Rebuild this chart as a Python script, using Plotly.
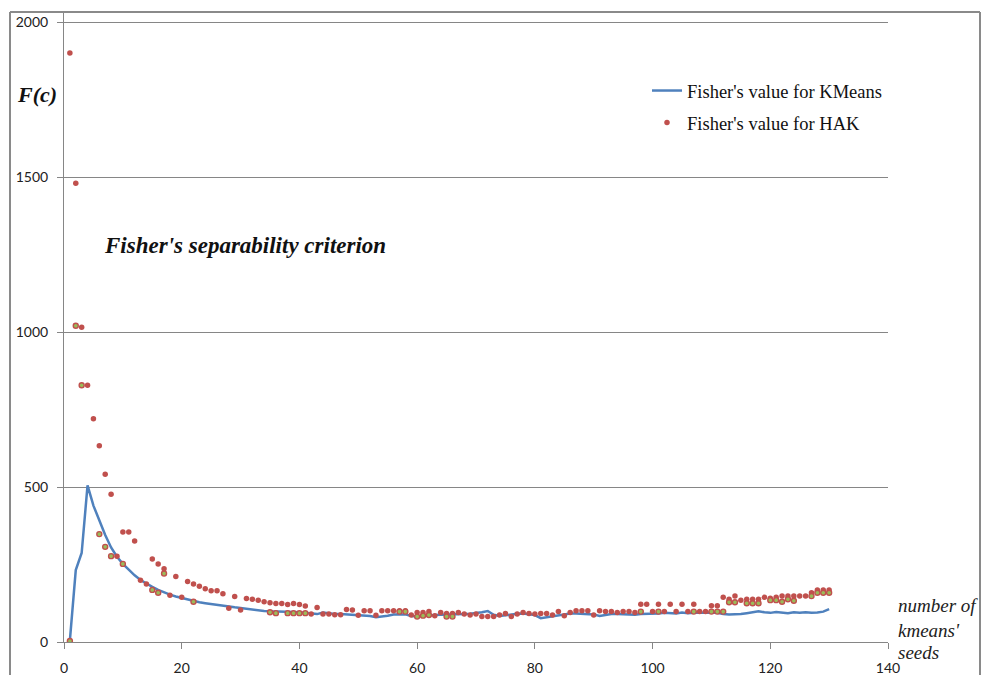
import plotly.graph_objects as go

# ---------------- data ----------------
seeds = list(range(1, 131))

kmeans_fisher = [
    5, 232, 287, 505, 440, 390, 345, 305, 275, 252,
    232, 215, 200, 188, 178, 168, 160, 153, 147, 142,
    138, 133, 128, 125, 122, 120, 118, 115, 112, 110,
    107, 104, 101, 100, 99, 99, 98, 98, 97, 96,
    94, 92, 90, 95, 92, 90, 90, 89, 88, 87,
    86, 84, 80, 82, 85, 89, 90, 89, 84, 82,
    85, 87, 87, 88, 88, 89, 89, 90, 91, 93,
    96, 100, 88, 84, 87, 90, 91, 92, 90, 87,
    77, 80, 84, 87, 90, 92, 92, 91, 90, 89,
    84, 88, 90, 90, 89, 87, 88, 90, 90, 91,
    92, 94, 93, 92, 95, 93, 94, 95, 95, 95,
    94, 90, 89, 89, 90, 93, 96, 99, 96, 94,
    97, 95, 93, 96, 94, 96, 94, 95, 98, 106,
]

hak_fisher = [
    1900, 1480, 1015, 828, 720, 633, 541, 477, 277, 355,
    355, 326, 199, 187, 268, 252, 236, 151, 211, 144,
    195, 187, 180, 172, 165, 165, 156, 109, 147, 103,
    140, 138, 135, 130, 127, 124, 124, 121, 124, 121,
    116, 90, 111, 90, 90, 88, 88, 105, 103, 86,
    101, 101, 86, 101, 101, 101, 101, 101, 87, 95,
    95, 98, 85, 95, 92, 92, 95, 90, 87, 90,
    82, 82, 82, 87, 92, 82, 90, 95, 92, 90,
    92, 92, 87, 98, 85, 95, 101, 101, 101, 87,
    101, 98, 98, 95, 98, 98, 95, 122, 122, 98,
    122, 98, 122, 98, 122, 98, 122, 98, 98, 117,
    117, 144, 138, 148, 135, 138, 138, 138, 144, 141,
    144, 148, 148, 148, 148, 148, 159, 168, 168, 168,
]

# second set of HAK runs (overlapping points), only where visible
hak_fisher_b = {
    1: 3, 2: 1020, 3: 828, 6: 348, 7: 307, 8: 277, 10: 252, 15: 168, 16: 159,
    17: 221, 22: 130, 35: 96, 36: 93, 38: 93, 39: 93, 40: 93, 41: 93,
    57: 98, 58: 98, 60: 82, 61: 85, 62: 87, 65: 82, 66: 82, 98: 98,
    101: 98, 107: 98, 110: 98, 111: 98, 112: 98, 113: 128, 114: 128,
    116: 125, 117: 125, 118: 125, 120: 135, 121: 135, 122: 130, 123: 138,
    124: 133, 127: 148, 128: 159, 129: 159, 130: 159,
}
hak_b_x = list(hak_fisher_b.keys())
hak_b_y = list(hak_fisher_b.values())

y_ticks = [0, 500, 1000, 1500, 2000]
x_ticks = [0, 20, 40, 60, 80, 100, 120, 140]

# ---------------- figure ----------------
BLUE = "#4F81BD"
RED = "#C0504D"
OLIVE = "#9BBB59"
GRID = "#868686"
SERIF = "Liberation Serif"

fig = go.Figure()
fig.add_trace(go.Scatter(
    x=seeds, y=kmeans_fisher, mode="lines",
    line=dict(color=BLUE, width=2.5),
    name="Fisher's value for KMeans", legendgroup="a",
))
fig.add_trace(go.Scatter(
    x=seeds, y=hak_fisher, mode="markers",
    marker=dict(color=RED, size=5.5),
    name="Fisher's value for HAK", legendgroup="b",
))
fig.add_trace(go.Scatter(
    x=hak_b_x, y=hak_b_y, mode="markers",
    marker=dict(color=OLIVE, size=5, line=dict(color=RED, width=1.4)),
    showlegend=False, hoverinfo="skip",
))

L, R, T, B = 64, 96, 12, 33
W, H = 984, 675
pw, ph = W - L - R, H - T - B


def px_x(px):
    return (px - L) / pw


def px_y(py):
    return (H - B - py) / ph


fig.update_layout(
    width=W, height=H,
    margin=dict(l=L, r=R, t=T, b=B, pad=0, autoexpand=False),
    paper_bgcolor="white", plot_bgcolor="white",
    showlegend=True,
    legend=dict(
        x=px_x(647), y=px_y(72), xanchor="left", yanchor="top",
        bgcolor="rgba(0,0,0,0)",
        font=dict(family=SERIF, size=18.5, color="#111"),
        tracegroupgap=5,
    ),
    xaxis=dict(
        range=[0, 140], tickvals=x_ticks, ticktext=[str(v) for v in x_ticks],
        showgrid=False, zeroline=False, automargin=False,
        showline=True, linecolor=GRID, linewidth=1,
        ticks="outside", ticklen=6, tickcolor=GRID,
        tickfont=dict(family="Lato", size=14, color="#222"),
        ticklabelstandoff=7,
    ),
    yaxis=dict(
        range=[0, ph / 0.31], tickvals=y_ticks, ticktext=[str(v) for v in y_ticks],
        showgrid=True, gridcolor=GRID, gridwidth=1, zeroline=False, automargin=False,
        showline=True, linecolor=GRID, linewidth=1,
        ticks="outside", ticklen=6, tickcolor=GRID,
        tickfont=dict(family="Lato", size=14, color="#222"),
        ticklabelstandoff=6,
    ),
)

# outer chart border (left, top, right)
border = dict(color="#8a8a8a", width=2)
fig.add_shape(type="line", xref="paper", yref="paper",
              x0=px_x(10), x1=px_x(10), y0=px_y(12), y1=px_y(700), line=border)
fig.add_shape(type="line", xref="paper", yref="paper",
              x0=px_x(10), x1=px_x(980), y0=px_y(12), y1=px_y(12), line=border)
fig.add_shape(type="line", xref="paper", yref="paper",
              x0=px_x(980), x1=px_x(980), y0=px_y(12), y1=px_y(700), line=border)

fig.add_annotation(
    text="<b><i>F(c)</i></b>", xref="paper", yref="paper",
    x=px_x(15), y=px_y(95), xanchor="left", yanchor="middle",
    showarrow=False, font=dict(family=SERIF, size=22, color="#111"),
)
fig.add_annotation(
    text="<b><i>Fisher's separability criterion</i></b>", xref="paper", yref="paper",
    x=px_x(102), y=px_y(245), xanchor="left", yanchor="middle",
    showarrow=False, font=dict(family=SERIF, size=23, color="#111"),
)
for txt, yy in [("number of", 605), ("kmeans'", 630), ("seeds", 652)]:
    fig.add_annotation(
        text=f"<i>{txt}</i>", xref="paper", yref="paper",
        x=px_x(896), y=px_y(yy), xanchor="left", yanchor="middle",
        showarrow=False, font=dict(family=SERIF, size=19, color="#222"),
    )

fig.write_html("out.html", config={"displayModeBar": False},
               post_script="document.body.style.margin='0px';")
